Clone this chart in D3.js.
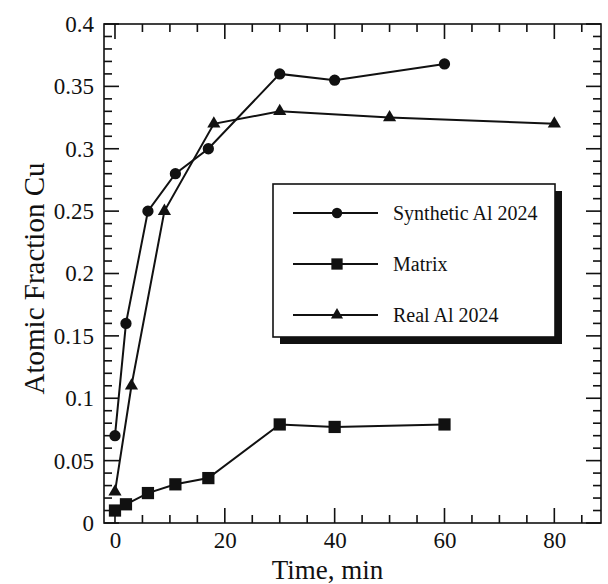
<!DOCTYPE html>
<html>
<head>
<meta charset="utf-8">
<script src="https://cdn.jsdelivr.net/npm/d3@7"></script>
<style>
  html, body { margin: 0; padding: 0; background: #fff; }
  svg { display: block; }
</style>
</head>
<body>
<svg id="chart" width="608" height="584"></svg>
<script>
// Copper enrichment over time for three samples
const seriesNames = ["Synthetic Al 2024", "Matrix", "Real Al 2024"];
const synthTime = [0, 2, 6, 11, 17, 30, 40, 60];
const synthCu   = [0.07, 0.16, 0.25, 0.28, 0.30, 0.36, 0.355, 0.368];
const matrixTime = [0, 2, 6, 11, 17, 30, 40, 60];
const matrixCu   = [0.01, 0.015, 0.024, 0.031, 0.036, 0.079, 0.077, 0.079];
const realTime = [0, 3, 9, 18, 30, 50, 80];
const realCu   = [0.025, 0.11, 0.25, 0.32, 0.33, 0.325, 0.32];
const xTickLabels = [0, 20, 40, 60, 80];
const yTickLabels = [0, 0.05, 0.1, 0.15, 0.2, 0.25, 0.3, 0.35, 0.4];

const svg = d3.select("#chart");
const W = 608, H = 584;
const plot = { left: 104, right: 601, top: 24, bottom: 523 };
const font = "'Liberation Serif', 'Times New Roman', serif";

svg.append("rect").attr("width", W).attr("height", H).attr("fill", "#fff");

const x = d3.scaleLinear().domain([-2, 88.5]).range([plot.left, plot.right]);
const y = d3.scaleLinear().domain([0, 0.4]).range([plot.bottom, plot.top]);

const ink = "#111";
const majorLen = 15, minorLen = 8;

// Frame
svg.append("rect")
  .attr("x", plot.left).attr("y", plot.top)
  .attr("width", plot.right - plot.left).attr("height", plot.bottom - plot.top)
  .attr("fill", "none").attr("stroke", ink).attr("stroke-width", 1.6);

// Inward ticks on all four sides: minor every 5 min / 0.01, major every 20 min / 0.05
const xMinor = d3.range(0, 86, 5);
const yMinor = d3.range(0, 41).map(i => i / 100);
const xLen = v => (v % 20 === 0 ? majorLen : minorLen);
const yLen = v => (Math.round(v * 100) % 5 === 0 ? majorLen : minorLen);

const tickG = svg.append("g").attr("fill", ink);
xMinor.forEach(v => {
  const px = x(v), len = xLen(v);
  tickG.append("rect").attr("x", px - 0.8).attr("y", plot.bottom - len)
    .attr("width", 1.6).attr("height", len);
  tickG.append("rect").attr("x", px - 0.8).attr("y", plot.top)
    .attr("width", 1.6).attr("height", len);
});
yMinor.forEach(v => {
  const py = y(v), len = yLen(v);
  tickG.append("rect").attr("x", plot.left).attr("y", py - 0.8)
    .attr("width", len).attr("height", 1.6);
  tickG.append("rect").attr("x", plot.right - len).attr("y", py - 0.8)
    .attr("width", len).attr("height", 1.6);
});

// Tick labels
svg.append("g").attr("transform", `translate(0,${plot.bottom})`)
  .call(d3.axisBottom(x).tickValues(xTickLabels).tickFormat(d3.format("d"))
        .tickSize(0).tickPadding(20))
  .call(g => g.select(".domain").remove())
  .call(g => g.selectAll("text").attr("font-family", font).attr("font-size", 23)
        .attr("fill", ink).attr("dy", "0.2em"));

const yFmt = d => d === 0 ? "0" : String(+d.toFixed(2));
svg.append("g").attr("transform", `translate(${plot.left},0)`)
  .call(d3.axisLeft(y).tickValues(yTickLabels).tickFormat(yFmt)
        .tickSize(0).tickPadding(10))
  .call(g => g.select(".domain").remove())
  .call(g => g.selectAll("text").attr("font-family", font).attr("font-size", 23)
        .attr("fill", ink));

// Axis titles
svg.append("text")
  .attr("x", (plot.left + plot.right) / 2 - 25).attr("y", 579)
  .attr("text-anchor", "middle")
  .attr("font-family", font).attr("font-size", 27).attr("fill", ink)
  .text("Time, min");

svg.append("text")
  .attr("transform", `translate(44,${(plot.top + plot.bottom) / 2 + 5}) rotate(-90)`)
  .attr("text-anchor", "middle")
  .attr("font-family", font).attr("font-size", 29).attr("fill", ink)
  .text("Atomic Fraction Cu");

// Series
const series = [
  { name: seriesNames[0], t: synthTime, v: synthCu, shape: d3.symbolCircle, size: 100 },
  { name: seriesNames[1], t: matrixTime, v: matrixCu, shape: d3.symbolSquare, size: 150 },
  { name: seriesNames[2], t: realTime, v: realCu, shape: d3.symbolTriangle, size: 75 }
];

const line = d3.line().x(d => x(d[0])).y(d => y(d[1]));

series.forEach(s => {
  const pts = s.t.map((t, i) => [t, s.v[i]]);
  svg.append("path").datum(pts)
    .attr("d", line).attr("fill", "none")
    .attr("stroke", ink).attr("stroke-width", 2);
  svg.append("g").selectAll("path").data(pts).join("path")
    .attr("transform", d => `translate(${x(d[0])},${y(d[1])})`)
    .attr("d", d3.symbol().type(s.shape).size(s.size))
    .attr("fill", ink);
});

// Legend with drop shadow
const lg = { x: 273, y: 184, w: 282, h: 153 };
svg.append("rect")
  .attr("x", lg.x + 7).attr("y", lg.y + 7).attr("width", lg.w).attr("height", lg.h)
  .attr("fill", ink);
svg.append("rect")
  .attr("x", lg.x).attr("y", lg.y).attr("width", lg.w).attr("height", lg.h)
  .attr("fill", "#fff").attr("stroke", ink).attr("stroke-width", 1.6);

const rowY = [213, 264, 315];
series.forEach((s, i) => {
  const g = svg.append("g").attr("transform", `translate(0,${rowY[i]})`);
  g.append("line").attr("x1", 293).attr("x2", 378).attr("y1", 0).attr("y2", 0)
    .attr("stroke", ink).attr("stroke-width", 2);
  g.append("path").attr("transform", "translate(337,0)")
    .attr("d", d3.symbol().type(s.shape).size(s.size * 0.85))
    .attr("fill", ink);
  g.append("text").attr("x", 393).attr("y", 0).attr("dy", "0.35em")
    .attr("font-family", font).attr("font-size", 20).attr("fill", ink)
    .text(s.name);
});
</script>
</body>
</html>
